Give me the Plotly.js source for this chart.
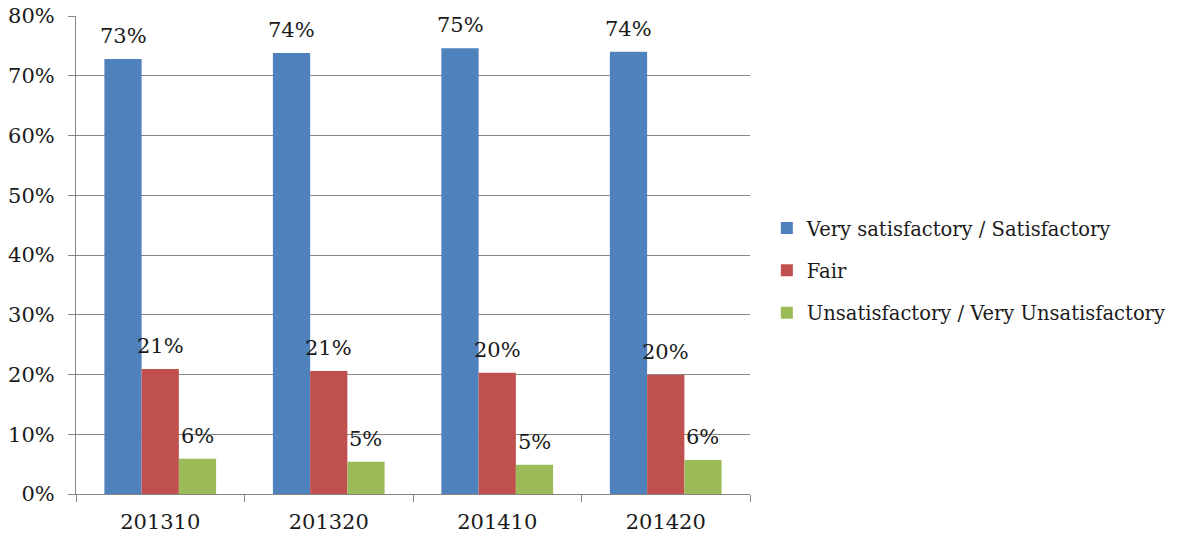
<!DOCTYPE html>
<html><head><meta charset="utf-8">
<script src="https://cdn.plot.ly/plotly-3.0.1.min.js"></script>
<style>html,body{margin:0;padding:0;background:#fff}#chart{width:1183px;height:539px}</style>
</head><body><div id="chart"></div>
<script>
var categories = ["201310", "201320", "201410", "201420"];
var seriesNames = ["Very satisfactory / Satisfactory", "Fair", "Unsatisfactory / Very Unsatisfactory"];
var verySatisfactory = [0.728, 0.738, 0.746, 0.740];
var fair = [0.209, 0.206, 0.203, 0.199];
var unsatisfactory = [0.059, 0.054, 0.049, 0.057];
var yTickVals = [0, 0.1, 0.2, 0.3, 0.4, 0.5, 0.6, 0.7, 0.8];
var colors = ["#4F81BD", "#C0504D", "#9BBB59"];

var FONT = "DejaVu Serif";
var TXT = "#1a1a1a";
var W = 1183, H = 539;
var margin = {l: 76, r: 431, t: 16, b: 45};
var bargap = 0.337;
var series = [verySatisfactory, fair, unsatisfactory];

var traces = series.map(function(vals, i){
  return {
    type: "bar", x: categories, y: vals, name: seriesNames[i],
    legendgroup: "g" + i,
    marker: {color: colors[i]},
    hoverinfo: "none"
  };
});

// data labels placed via the axes' data coordinates (category index), shifted to each grouped bar
var groupFrac = (1 - bargap) / series.length;
var annotations = [];
series.forEach(function(vals, i){
  vals.forEach(function(v, j){
    annotations.push({
      x: j + (i - 1) * groupFrac, y: v, xref: "x", yref: "y",
      text: Math.round(v * 100) + "%", showarrow: false,
      xanchor: "center", yanchor: "bottom",
      yshift: 9,
      font: {family: FONT, size: 21, color: TXT}
    });
  });
});

var layout = {
  width: W, height: H,
  margin: margin,
  paper_bgcolor: "#fff", plot_bgcolor: "#fff",
  font: {family: FONT, size: 21, color: TXT},
  barmode: "group", bargap: bargap, bargroupgap: 0,
  xaxis: {
    type: "category", categoryarray: categories, categoryorder: "array",
    range: [-0.5, categories.length - 0.5],
    tickson: "boundaries", ticks: "outside", ticklen: 7, tickcolor: "#868686",
    showline: true, linecolor: "#868686", linewidth: 1, showgrid: false,
    ticklabelstandoff: 9, automargin: false,
    tickfont: {family: FONT, size: 21, color: TXT}
  },
  yaxis: {
    range: [0, 0.8], tickvals: yTickVals, tickformat: ".0%",
    ticks: "outside", ticklen: 7, tickcolor: "#868686",
    showline: true, linecolor: "#868686", linewidth: 1,
    showgrid: true, gridcolor: "#868686", gridwidth: 1, zeroline: false,
    ticklabelstandoff: 9, automargin: false,
    tickfont: {family: FONT, size: 21, color: TXT}
  },
  annotations: annotations,
  showlegend: true,
  legend: {
    x: 1.025, xanchor: "left", y: 0.467, yanchor: "middle",
    traceorder: "grouped", tracegroupgap: 14,
    font: {family: FONT, size: 19.5, color: TXT},
    itemwidth: 30, bgcolor: "rgba(0,0,0,0)"
  }
};
Plotly.newPlot("chart", traces, layout, {displayModeBar: false, staticPlot: true});
</script></body></html>
